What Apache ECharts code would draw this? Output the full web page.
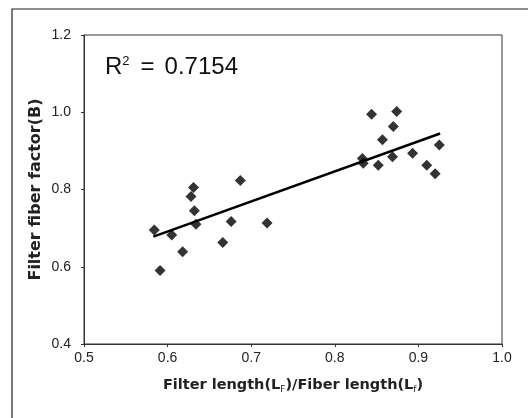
<!DOCTYPE html>
<html>
<head>
<meta charset="utf-8">
<title>Filter fiber factor</title>
<script src="https://cdn.jsdelivr.net/npm/echarts@6/dist/echarts.min.js"></script>
<style>
  html, body { margin: 0; padding: 0; background: #fff; }
  #chart { width: 528px; height: 418px; }
</style>
</head>
<body>
<div id="chart"></div>
<script>
(function () {
    'use strict';

    // Measured points (LF/Lf ratio, filter fiber factor B).
    var ratio = [
        0.584, 0.591, 0.605, 0.618, 0.628, 0.631, 0.632, 0.634,
        0.666, 0.676, 0.687, 0.719,
        0.833, 0.834, 0.844, 0.852, 0.857, 0.869, 0.870, 0.874,
        0.893, 0.910, 0.920, 0.925
    ];
    var factor = [
        0.695, 0.590, 0.682, 0.639, 0.782, 0.805, 0.745, 0.710,
        0.663, 0.717, 0.823, 0.713,
        0.880, 0.868, 0.995, 0.863, 0.929, 0.885, 0.963, 1.002,
        0.894, 0.863, 0.841, 0.915
    ];

    // Linear trend line end points as drawn.
    var trendX = [0.583, 0.926];
    var trendY = [0.678, 0.945];

    var xTicks = [0.5, 0.6, 0.7, 0.8, 0.9, 1.0];
    var yTicks = [0.4, 0.6, 0.8, 1.0, 1.2];

    var FONT = '"Liberation Sans", Arial, sans-serif';
    var TITLE_FONT = '"DejaVu Sans", sans-serif';

    function pairs(xs, ys) {
        return xs.map(function (x, i) { return [x, ys[i]]; });
    }

    var chart = echarts.init(document.getElementById('chart'));

    chart.setOption({
        animation: false,
        backgroundColor: '#fff',
        grid: { left: 84, right: 26, top: 35, bottom: 74, show: true, borderColor: '#333', borderWidth: 1 },
        xAxis: {
            type: 'value',
            min: xTicks[0],
            max: xTicks[xTicks.length - 1],
            interval: 0.1,
            axisLine: { show: true, lineStyle: { color: '#333', width: 1 } },
            axisTick: { show: true, length: 3, lineStyle: { color: '#333' } },
            splitLine: { show: false },
            axisLabel: {
                margin: 7,
                fontFamily: FONT,
                fontSize: 14,
                color: '#222',
                formatter: function (v) { return v.toFixed(1); }
            },
            name: '{t|Filter length(L}{s|F}{t|)/Fiber length(L}{s|f}{t|)}',
            nameLocation: 'middle',
            nameGap: 33,
            nameMoveOverlap: false,
            nameTextStyle: {
                rich: {
                    t: { fontFamily: TITLE_FONT, fontSize: 14.5, fontWeight: 'bold', color: '#222' },
                    s: { fontFamily: TITLE_FONT, fontSize: 9, color: '#222', padding: [8, 0, 0, 0] }
                }
            }
        },
        yAxis: {
            type: 'value',
            min: yTicks[0],
            max: yTicks[yTicks.length - 1],
            interval: 0.2,
            axisLine: { show: true, lineStyle: { color: '#333', width: 1 } },
            axisTick: { show: true, length: 3, lineStyle: { color: '#333' } },
            splitLine: { show: false },
            axisLabel: {
                margin: 13,
                fontFamily: FONT,
                fontSize: 14,
                color: '#222',
                formatter: function (v) { return v.toFixed(1); }
            },
            name: 'Filter fiber factor(B)',
            nameLocation: 'middle',
            nameGap: 40,
            nameMoveOverlap: false,
            nameTextStyle: { fontFamily: TITLE_FONT, fontSize: 16, fontWeight: 'bold', color: '#222' }
        },
        graphic: [
            {
                type: 'polyline',
                shape: { points: [[12, 418], [12, 9], [528, 9]] },
                style: { stroke: '#222', lineWidth: 1.2, fill: null }
            },
            {
                type: 'text',
                left: 105,
                top: 55,
                style: {
                    text: '{r|R}{s|2}{e|=}{n|0.7154}',
                    rich: {
                        r: { fontFamily: FONT, fontSize: 24, fill: '#111' },
                        s: { fontFamily: FONT, fontSize: 13, fill: '#111', padding: [0, 0, 12, 0] },
                        e: { fontFamily: FONT, fontSize: 24, fill: '#111', padding: [0, 10, 0, 11] },
                        n: { fontFamily: FONT, fontSize: 24, fill: '#111' }
                    }
                }
            }
        ],
        series: [
            {
                type: 'line',
                data: pairs(trendX, trendY),
                symbol: 'none',
                lineStyle: { color: '#000', width: 2.5 },
                z: 2
            },
            {
                type: 'scatter',
                data: pairs(ratio, factor),
                symbol: 'diamond',
                symbolSize: 11,
                itemStyle: { color: '#000' },
                z: 3
            }
        ]
    });
})();
</script>
</body>
</html>
